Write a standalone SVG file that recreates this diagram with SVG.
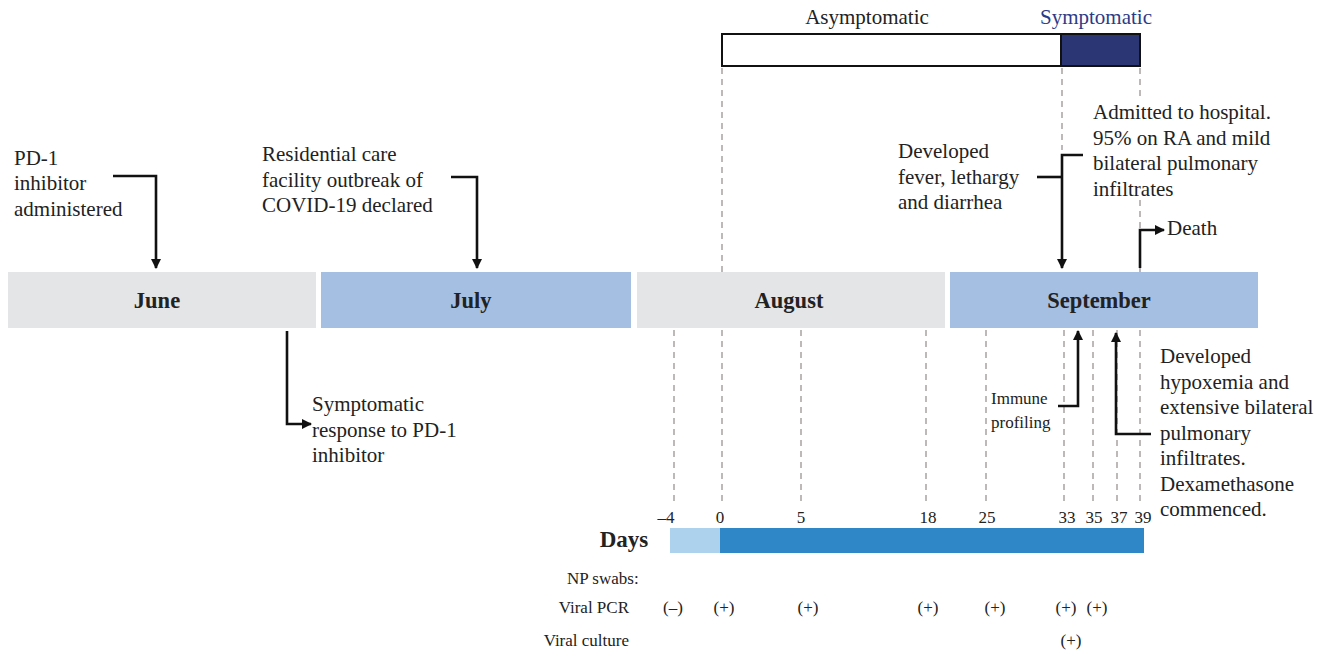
<svg xmlns="http://www.w3.org/2000/svg" width="1328" height="653" viewBox="0 0 1328 653">
<style>
text{font-family:"Liberation Serif",serif;}
.t{font-size:21px;fill:#222;}
.s{font-size:17px;fill:#222;}
.m{font-size:22.5px;font-weight:bold;text-anchor:middle;fill:#222;}
.d{font-size:17px;text-anchor:middle;fill:#222;}
.dash{stroke:#a9a3a3;stroke-width:1.5;stroke-dasharray:6,5;fill:none;}
.arr{stroke:#111;stroke-width:2.6;fill:none;}
.gray{fill:#e4e5e7;}
.blue{fill:#a5bfe3;}
</style>
<defs>
<marker id="ah" viewBox="0 0 10 10" refX="9" refY="5" markerWidth="4" markerHeight="4" orient="auto" markerUnits="strokeWidth">
<path d="M0,0 L10,5 L0,10 z" fill="#111"/>
</marker>
</defs>
<g font-family="Liberation Serif, serif">

<g id="status-bar">
<rect x="722" y="34" width="339" height="32" fill="#fff" stroke="#111" stroke-width="2"/>
<rect x="1061" y="34" width="79" height="32" fill="#2b3674" stroke="#111" stroke-width="2"/>
<text class="t" x="867" y="24" text-anchor="middle">Asymptomatic</text>
<text class="t" x="1096" y="24" text-anchor="middle" style="fill:#2e3a86">Symptomatic</text>
</g>

<g id="guides">
<line class="dash" x1="722" y1="68" x2="722" y2="272"/>
<line class="dash" x1="1062" y1="68" x2="1062" y2="150"/>
<line class="dash" x1="1140" y1="68" x2="1140" y2="100"/>
<line class="dash" x1="1140" y1="200" x2="1140" y2="272"/>
<line class="dash" x1="674" y1="330" x2="674" y2="505"/>
<line class="dash" x1="722" y1="330" x2="722" y2="505"/>
<line class="dash" x1="801" y1="330" x2="801" y2="505"/>
<line class="dash" x1="926" y1="330" x2="926" y2="505"/>
<line class="dash" x1="986" y1="330" x2="986" y2="505"/>
<line class="dash" x1="1064" y1="330" x2="1064" y2="505"/>
<line class="dash" x1="1093" y1="330" x2="1093" y2="505"/>
<line class="dash" x1="1117" y1="330" x2="1117" y2="505"/>
<line class="dash" x1="1140" y1="330" x2="1140" y2="505"/>
</g>

<g id="june"><rect class="gray" x="8" y="272" width="308" height="56"/><text class="m" x="157" y="308">June</text></g>
<g id="july"><rect class="blue" x="321" y="272" width="310" height="56"/><text class="m" x="471" y="308">July</text></g>
<g id="august"><rect class="gray" x="637" y="272" width="308" height="56"/><text class="m" x="789" y="308">August</text></g>
<g id="september"><rect class="blue" x="950" y="272" width="308" height="56"/><text class="m" x="1099" y="308">September</text></g>

<g id="connectors">
<polyline class="arr" points="113,176 156,176 156,268" marker-end="url(#ah)"/>
<polyline class="arr" points="451,177 477,177 477,268" marker-end="url(#ah)"/>
<polyline class="arr" points="287,331 287,424 311,424" marker-end="url(#ah)"/>
<polyline class="arr" points="1037,177 1062,177"/>
<polyline class="arr" points="1083,155 1062,155 1062,268" marker-end="url(#ah)"/>
<polyline class="arr" points="1140,268 1140,230 1164,230" marker-end="url(#ah)"/>
<polyline class="arr" points="1058,406 1078,406 1078,331" marker-end="url(#ah)"/>
<polyline class="arr" points="1151,434 1116,434 1116,333" marker-end="url(#ah)"/>
</g>

<g id="pd1-admin"><text class="t" x="14" y="165">PD-1</text><text class="t" x="14" y="190">inhibitor</text><text class="t" x="14" y="216">administered</text></g>
<g id="outbreak"><text class="t" x="262" y="161">Residential care</text><text class="t" x="262" y="187">facility outbreak of</text><text class="t" x="262" y="212">COVID-19 declared</text></g>
<g id="response"><text class="t" x="312" y="411">Symptomatic</text><text class="t" x="312" y="437">response to PD-1</text><text class="t" x="312" y="462">inhibitor</text></g>
<g id="fever"><text class="t" x="898" y="158">Developed</text><text class="t" x="898" y="184">fever, lethargy</text><text class="t" x="898" y="209">and diarrhea</text></g>
<g id="admitted"><text class="t" x="1093" y="119">Admitted to hospital.</text><text class="t" x="1093" y="145">95% on RA and mild</text><text class="t" x="1093" y="170">bilateral pulmonary</text><text class="t" x="1093" y="196">infiltrates</text></g>
<g id="death"><text class="t" x="1167" y="235">Death</text></g>
<g id="immune"><text class="s" x="991" y="404">Immune</text><text class="s" x="991" y="428">profiling</text></g>
<g id="hypoxemia"><text class="t" x="1160" y="363">Developed</text><text class="t" x="1160" y="389">hypoxemia and</text><text class="t" x="1160" y="414">extensive bilateral</text><text class="t" x="1160" y="440">pulmonary</text><text class="t" x="1160" y="465">infiltrates.</text><text class="t" x="1160" y="491">Dexamethasone</text><text class="t" x="1160" y="516">commenced.</text></g>

<g id="days">
<rect x="670" y="528" width="51" height="25" fill="#acd2ee"/>
<rect x="720" y="528" width="424" height="25" fill="#2f87c7"/>
<text class="m" x="624" y="547" style="font-size:23px">Days</text>
<text class="d" x="666" y="523">–4</text>
<text class="d" x="720" y="523">0</text>
<text class="d" x="801" y="523">5</text>
<text class="d" x="928" y="523">18</text>
<text class="d" x="987" y="523">25</text>
<text class="d" x="1067" y="523">33</text>
<text class="d" x="1094" y="523">35</text>
<text class="d" x="1119" y="523">37</text>
<text class="d" x="1143" y="523">39</text>
</g>

<g id="swabs">
<text class="s" x="567" y="584">NP swabs:</text>
<text class="s" x="629" y="613" text-anchor="end">Viral PCR</text>
<text class="s" x="629" y="646" text-anchor="end">Viral culture</text>
<text class="d" x="673" y="613">(–)</text>
<text class="d" x="724" y="613">(+)</text>
<text class="d" x="808" y="613">(+)</text>
<text class="d" x="928" y="613">(+)</text>
<text class="d" x="995" y="613">(+)</text>
<text class="d" x="1066" y="613">(+)</text>
<text class="d" x="1097" y="613">(+)</text>
<text class="d" x="1071" y="646">(+)</text>
</g>
</g>
</svg>
